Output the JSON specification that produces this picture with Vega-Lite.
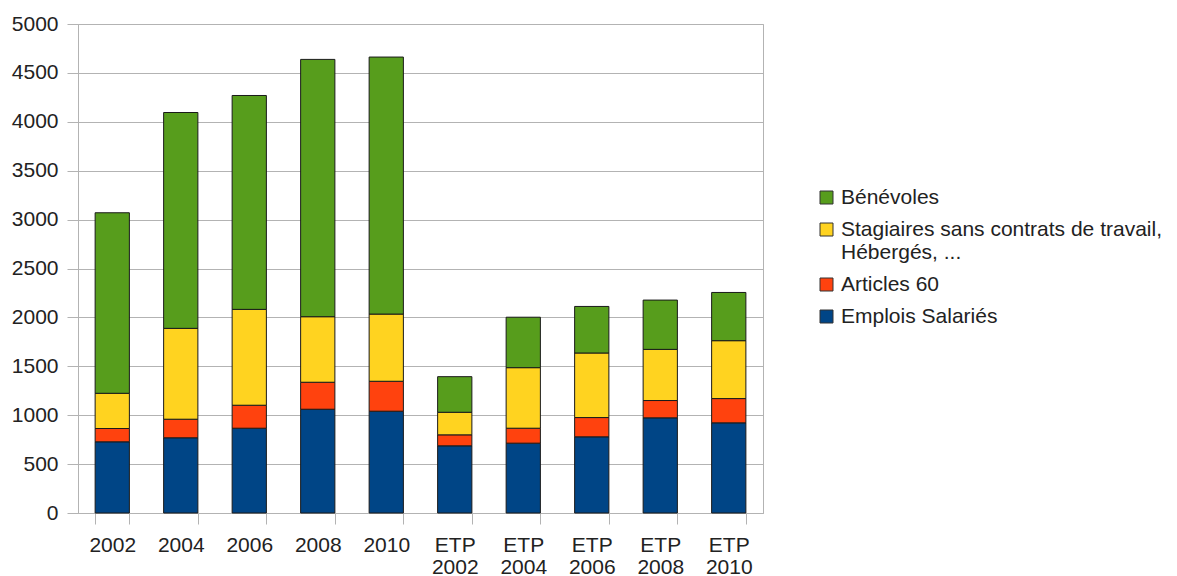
{
  "$schema": "https://vega.github.io/schema/vega-lite/v6.json",
  "width": 685,
  "height": 489,
  "autosize": {"type": "none"},
  "padding": {"left": 78, "top": 24, "right": 414, "bottom": 63},
  "background": "white",
  "config": {
    "font": "Liberation Sans",
    "view": {"stroke": "#b3b3b3"},
    "axis": {"labelFont": "Liberation Sans", "labelColor": "#222222", "domainColor": "#b3b3b3", "tickColor": "#b3b3b3", "gridColor": "#b3b3b3"}
  },
  "data": {
    "values": [
      {"annee": "2002", "serie": "Emplois Salariés", "valeur": 728},
      {"annee": "2002", "serie": "Articles 60", "valeur": 136},
      {"annee": "2002", "serie": "Stagiaires sans contrats de travail, Hébergés, ...", "valeur": 360},
      {"annee": "2002", "serie": "Bénévoles", "valeur": 1846},
      {"annee": "2004", "serie": "Emplois Salariés", "valeur": 769},
      {"annee": "2004", "serie": "Articles 60", "valeur": 190},
      {"annee": "2004", "serie": "Stagiaires sans contrats de travail, Hébergés, ...", "valeur": 929},
      {"annee": "2004", "serie": "Bénévoles", "valeur": 2207},
      {"annee": "2006", "serie": "Emplois Salariés", "valeur": 867},
      {"annee": "2006", "serie": "Articles 60", "valeur": 235},
      {"annee": "2006", "serie": "Stagiaires sans contrats de travail, Hébergés, ...", "valeur": 980},
      {"annee": "2006", "serie": "Bénévoles", "valeur": 2187},
      {"annee": "2008", "serie": "Emplois Salariés", "valeur": 1061},
      {"annee": "2008", "serie": "Articles 60", "valeur": 276},
      {"annee": "2008", "serie": "Stagiaires sans contrats de travail, Hébergés, ...", "valeur": 670},
      {"annee": "2008", "serie": "Bénévoles", "valeur": 2631},
      {"annee": "2010", "serie": "Emplois Salariés", "valeur": 1041},
      {"annee": "2010", "serie": "Articles 60", "valeur": 306},
      {"annee": "2010", "serie": "Stagiaires sans contrats de travail, Hébergés, ...", "valeur": 687},
      {"annee": "2010", "serie": "Bénévoles", "valeur": 2628},
      {"annee": "ETP 2002", "serie": "Emplois Salariés", "valeur": 687},
      {"annee": "ETP 2002", "serie": "Articles 60", "valeur": 112},
      {"annee": "ETP 2002", "serie": "Stagiaires sans contrats de travail, Hébergés, ...", "valeur": 231},
      {"annee": "ETP 2002", "serie": "Bénévoles", "valeur": 364},
      {"annee": "ETP 2004", "serie": "Emplois Salariés", "valeur": 714},
      {"annee": "ETP 2004", "serie": "Articles 60", "valeur": 153},
      {"annee": "ETP 2004", "serie": "Stagiaires sans contrats de travail, Hébergés, ...", "valeur": 619},
      {"annee": "ETP 2004", "serie": "Bénévoles", "valeur": 516},
      {"annee": "ETP 2006", "serie": "Emplois Salariés", "valeur": 779},
      {"annee": "ETP 2006", "serie": "Articles 60", "valeur": 197},
      {"annee": "ETP 2006", "serie": "Stagiaires sans contrats de travail, Hébergés, ...", "valeur": 660},
      {"annee": "ETP 2006", "serie": "Bénévoles", "valeur": 476},
      {"annee": "ETP 2008", "serie": "Emplois Salariés", "valeur": 973},
      {"annee": "ETP 2008", "serie": "Articles 60", "valeur": 177},
      {"annee": "ETP 2008", "serie": "Stagiaires sans contrats de travail, Hébergés, ...", "valeur": 523},
      {"annee": "ETP 2008", "serie": "Bénévoles", "valeur": 504},
      {"annee": "ETP 2010", "serie": "Emplois Salariés", "valeur": 922},
      {"annee": "ETP 2010", "serie": "Articles 60", "valeur": 248},
      {"annee": "ETP 2010", "serie": "Stagiaires sans contrats de travail, Hébergés, ...", "valeur": 592},
      {"annee": "ETP 2010", "serie": "Bénévoles", "valeur": 493}
    ]
  },
  "transform": [
    {"calculate": "indexof(['Emplois Salariés', 'Articles 60', 'Stagiaires sans contrats de travail, Hébergés, ...', 'Bénévoles'], datum.serie)", "as": "ordre"}
  ],
  "mark": {"type": "bar", "stroke": "#1a1a1a", "strokeWidth": 1},
  "encoding": {
    "x": {
      "field": "annee",
      "type": "nominal",
      "sort": null,
      "scale": {"paddingInner": 0.5, "paddingOuter": 0.25},
      "axis": {
        "title": null,
        "labelAngle": 0,
        "labelFontSize": 21,
        "labelExpr": "split(datum.label, ' ')",
        "labelLineHeight": 22,
        "labelPadding": 10,
        "tickSize": 11,
        "tickBand": "extent",
        "domainColor": "#b3b3b3"
      }
    },
    "y": {
      "field": "valeur",
      "type": "quantitative",
      "aggregate": "sum",
      "stack": "zero",
      "scale": {"domain": [0, 5000], "nice": false},
      "axis": {
        "title": null,
        "format": "d",
        "values": [0, 500, 1000, 1500, 2000, 2500, 3000, 3500, 4000, 4500, 5000],
        "labelFontSize": 21,
        "tickSize": 11,
        "labelPadding": 9,
        "grid": true
      }
    },
    "order": {"field": "ordre", "type": "quantitative", "sort": "ascending"},
    "color": {
      "field": "serie",
      "type": "nominal",
      "scale": {
        "domain": ["Bénévoles", "Stagiaires sans contrats de travail, Hébergés, ...", "Articles 60", "Emplois Salariés"],
        "range": ["#579d1c", "#ffd320", "#ff420e", "#004586"]
      },
      "legend": {
        "title": null,
        "orient": "none",
        "legendX": 738,
        "legendY": 163,
        "symbolType": "square",
        "symbolSize": 169,
        "symbolStrokeColor": "#333333",
        "symbolStrokeWidth": 1,
        "symbolOpacity": 1,
        "labelFont": "Liberation Sans",
        "labelFontSize": 21,
        "labelColor": "#222222",
        "labelLimit": 420,
        "labelOffset": 4,
        "rowPadding": 10,
        "labelExpr": "datum.label == 'Stagiaires sans contrats de travail, Hébergés, ...' ? ['Stagiaires sans contrats de travail,', 'Hébergés, ...'] : datum.label"
      }
    }
  }
}
